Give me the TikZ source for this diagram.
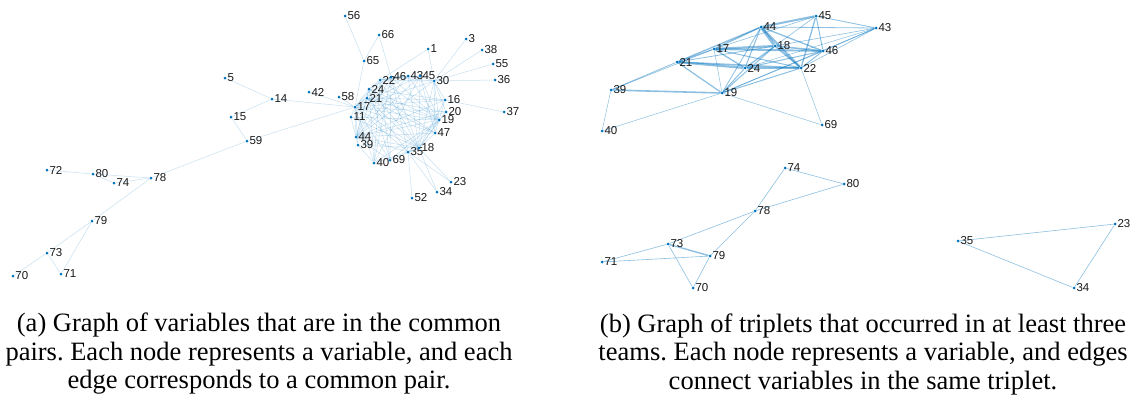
\documentclass[tikz,border=0pt]{standalone}
\usepackage{fontspec}
\setmainfont{Liberation Serif}
\newfontfamily\capfont{Liberation Serif}
\newfontfamily\labfont{Liberation Sans}
\pgfdeclarelayer{bg}
\pgfsetlayers{bg,main}
\definecolor{mblue}{RGB}{0,114,189}
\frenchspacing
\begin{document}
\begin{tikzpicture}[x=1pt,y=-1pt,
 vtx/.style={circle,fill=mblue,inner sep=0pt,minimum size=3pt},
 lab/.style={font=\labfont\fontsize{11.5}{11.5}\selectfont,text=black!90,inner sep=0.6pt},
 ledge/.style={draw=mblue,opacity=0.22,line width=0.5pt},
 redge/.style={draw=mblue,opacity=0.45},
 captext/.style={font=\capfont\fontsize{26.5}{28.5}\selectfont,align=center,inner sep=0pt}
]
\useasboundingbox (0,0) rectangle (1132,400);

% ---------- left graph vertices ----------
\foreach \n/\x/\y in {56/345/16,66/379/35,1/428/49,3/466/39,38/482/50,55/493/64,36/495/80,
 65/364/61,22/380/80,46/391/77,43/408/76,45/420/76,30/434/81,24/369/89,21/367/98,
 58/339/97,17/355/107,11/351/117,16/445/100,20/446/112,19/439/120,37/504/112,47/435/133,
 44/356/137,39/358/145,35/408/152,18/419/148,40/374/163,69/390/160,23/451/182,34/437/192,
 52/412/198,5/225/78,14/272/99,42/309/92,15/231/117,59/247/141,72/47/170,80/93/174,
 74/114/183,78/151/178,79/92/221,73/47/253,70/13/276,71/61/274}
 \node[vtx,label={[lab]east:\n}] (L\n) at (\x,\y) {};

\begin{pgfonlayer}{bg}
\foreach \a/\b in {17/22,17/46,17/43,17/45,17/30,17/24,17/21,17/11,17/44,17/39,17/18,17/19,17/20,17/16,17/47,17/35,17/69,17/40,17/58,
 44/22,44/46,44/43,44/45,44/30,44/24,44/21,44/18,44/19,44/20,44/16,44/47,44/35,44/69,44/39,44/11,
 18/22,18/46,18/43,18/45,18/30,18/24,18/21,18/19,18/20,18/16,18/47,18/35,18/69,18/40,18/39,
 19/22,19/46,19/43,19/45,19/30,19/24,19/21,19/20,19/16,19/47,19/35,19/69,19/40,
 22/46,22/43,22/45,22/30,22/24,22/69,22/40,
 46/43,46/45,46/30,46/24,46/69,46/40,46/35,
 45/43,45/30,45/47,45/40,24/21,24/47,24/16,24/69,24/40,21/20,21/16,21/47,21/35,
 30/16,30/20,30/47,39/40,11/19,11/18,
 56/65,65/17,66/65,66/46,1/30,1/22,3/30,38/30,55/30,36/30,37/16,42/17,14/17,59/17,
 5/14,14/15,15/59,59/78,78/80,78/74,72/80,80/74,78/79,79/73,79/71,73/70,73/71,
 52/35,34/35,34/18,23/35,23/18}
 \draw[ledge] (L\a) -- (L\b);
\end{pgfonlayer}

% ---------- right graph vertices ----------
\foreach \n/\x/\y in {45/816/16,44/761/27,43/876/28,17/714/49,18/775/46,46/823/51,21/677/62,
 24/745/68,22/801/68,39/611/90,19/722/93,40/602/131,69/822/125,
 74/785/168,80/844/184,78/755/211,73/668/244,79/710/256,71/602/262,70/693/288,
 35/958/241,23/1115/224,34/1074/288}
 \node[vtx,label={[lab]east:\n}] (R\n) at (\x,\y) {};

\begin{pgfonlayer}{bg}
\foreach \a/\b/\w in {21/24/2.2,21/22/1.6,21/17/1.0,21/44/1.3,21/18/0.8,21/19/1.2,21/39/0.8,
 17/18/2.2,17/46/1.9,17/44/1.3,17/24/1.3,17/22/1.0,17/19/0.5,17/45/0.6,
 44/18/2.8,44/22/2.2,44/45/2.0,44/46/1.3,44/43/0.8,44/24/1.0,44/19/0.8,
 18/22/1.6,18/24/1.3,18/46/1.6,18/19/1.0,18/43/0.6,18/45/0.6,
 24/22/1.9,24/46/1.0,24/19/1.0,22/46/1.0,22/45/1.3,22/43/0.6,22/19/1.0,
 22/69/0.5,19/69/0.5,46/45/1.0,46/43/0.8,45/43/0.8,46/19/0.8,
 39/19/1.6,39/40/0.5,40/19/0.5,39/17/0.6,43/24/0.5,43/19/0.5,
 74/80/0.6,74/78/0.6,78/80/0.6,73/78/0.6,78/79/0.6,73/79/1.4,71/73/0.6,71/79/0.6,70/73/0.6,70/79/0.6,
 35/23/0.6,35/34/0.6,23/34/0.6}
 \draw[redge,line width=\w pt] (R\a) -- (R\b);
\end{pgfonlayer}

% ---------- captions ----------
\node[captext] (capa) at (259,354) {(a) Graph of variables that are in the common\\
 pairs. Each node represents a variable, and each\\
 edge corresponds to a common pair.};
\node[captext] (capb) at (863,354) {(b) Graph of triplets that occurred in at least three\\
 teams. Each node represents a variable, and edges\\
 connect variables in the same triplet.};
\end{tikzpicture}
\end{document}
